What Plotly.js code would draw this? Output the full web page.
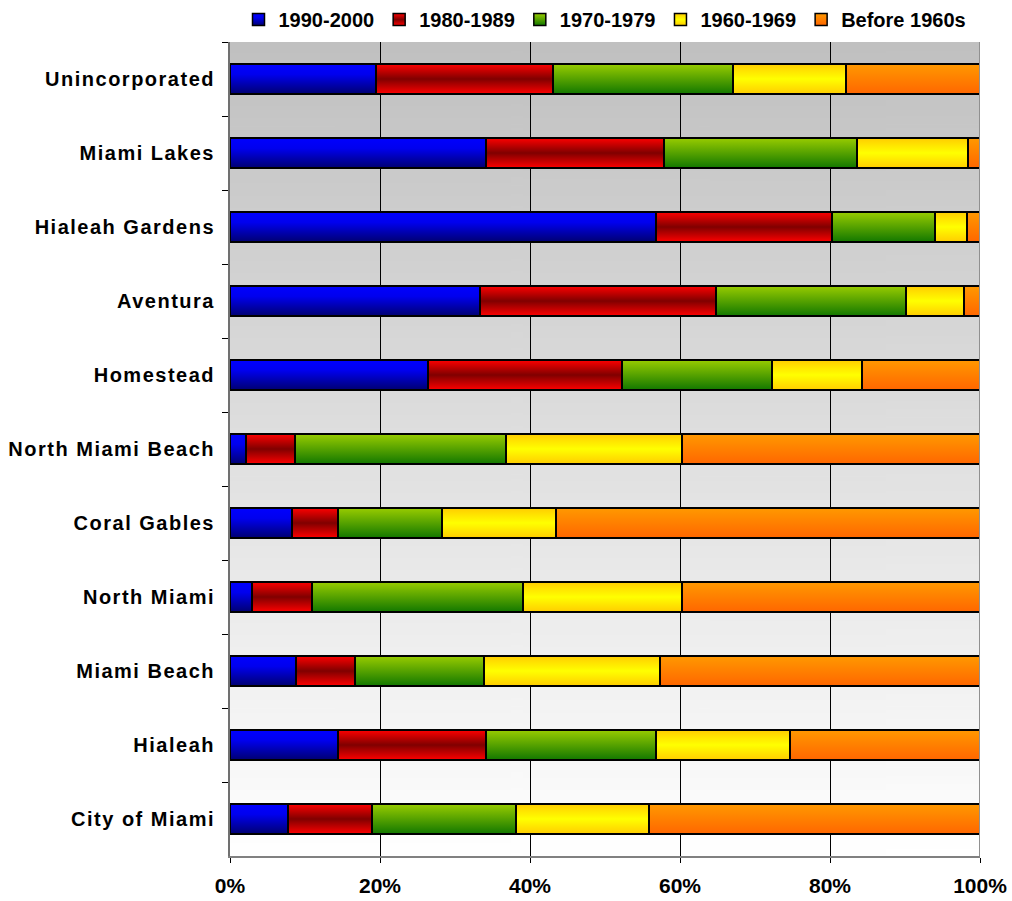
<!DOCTYPE html>
<html>
<head>
<meta charset="utf-8">
<script src="https://cdn.plot.ly/plotly-3.0.1.min.js"></script>
<style>
  html, body { margin: 0; padding: 0; background: #fff; }
  #chart { width: 1012px; height: 901px; }
  .ytick text { letter-spacing: 1.5px; }
</style>
</head>
<body>
<div id="chart"></div>
<script>
// ---- data ----
const categories = ['Unincorporated','Miami Lakes','Hialeah Gardens','Aventura','Homestead',
  'North Miami Beach','Coral Gables','North Miami','Miami Beach','Hialeah','City of Miami'];
const seriesNames = ['1990-2000','1980-1989','1970-1979','1960-1969','Before 1960s'];
const s1990_2000 = [19.4,34.1,56.8,33.3,26.4,2.1,8.2,2.9,8.8,14.4,7.7];
const s1980_1989 = [23.7,23.7,23.4,31.5,25.8,6.6,6.2,8.0,7.9,19.7,11.2];
const s1970_1979 = [24.0,25.8,13.8,25.3,20.0,28.1,13.8,28.2,17.2,22.7,19.2];
const s1960_1969 = [15.0,14.8,4.3,7.7,12.0,23.4,15.2,21.1,23.4,17.8,17.8];
const sBefore1960 = [17.9,1.6,1.7,2.2,15.8,39.8,56.6,39.8,42.7,25.4,44.1];
const xTickVals = [0,20,40,60,80,100];
const xTickText = ['0%','20%','40%','60%','80%','100%'];

// ---- styles ----
const baseColors = ['#0000cc','#cc0000','#559900','#ffee00','#ff8000'];
const gradStops = [
  [[0,'#0000ff'],[0.35,'#0000ee'],[1,'#000070']],
  [[0,'#ff0000'],[0.5,'#800000'],[1,'#ff0000']],
  [[0,'#99cc00'],[1,'#117700']],
  [[0,'#ffcc00'],[0.5,'#ffff00'],[1,'#ffcc00']],
  [[0,'#ff9900'],[1,'#ff6600']]
];

const allSeries = [s1990_2000, s1980_1989, s1970_1979, s1960_1969, sBefore1960];
const traces = allSeries.map((vals, i) => ({
  type: 'bar',
  orientation: 'h',
  name: seriesNames[i],
  x: vals,
  y: categories,
  marker: { color: baseColors[i], line: { color: '#000', width: 2 } },
  hoverinfo: 'none'
}));

// background gradient for plot area
const cv = document.createElement('canvas');
cv.width = 4; cv.height = 400;
const ctx = cv.getContext('2d');
const g = ctx.createLinearGradient(0,0,0,400);
g.addColorStop(0,'#c0c0c0');
g.addColorStop(1,'#ffffff');
ctx.fillStyle = g; ctx.fillRect(0,0,4,400);
const bgURL = cv.toDataURL();

const fontFam = '"Liberation Sans", Arial, sans-serif';

const layout = {
  width: 1012, height: 901,
  margin: { l: 230, r: 32, t: 42, b: 45 },
  paper_bgcolor: '#ffffff',
  plot_bgcolor: 'rgba(0,0,0,0)',
  barmode: 'stack',
  bargap: 0.59,
  showlegend: true,
  hovermode: false,
  font: { family: fontFam, color: '#000', size: 20, weight: 'bold' },
  legend: {
    orientation: 'h', x: 0.5, xanchor: 'center', xref: 'paper',
    y: 1, yanchor: 'top', yref: 'container',
    font: { family: fontFam, size: 20, weight: 'bold', color: '#000' },
    traceorder: 'normal', itemwidth: 30, tracegroupgap: 0,
    bgcolor: 'rgba(0,0,0,0)'
  },
  xaxis: {
    range: [0, 100], tickvals: xTickVals, ticktext: xTickText,
    showgrid: true, gridcolor: '#000', gridwidth: 1,
    zeroline: false, showline: true, linecolor: '#808080', linewidth: 2,
    ticks: 'outside', ticklen: 5, tickcolor: '#000', tickwidth: 1,
    ticklabelstandoff: 5,
    tickfont: { family: fontFam, size: 21, weight: 'bold', color: '#000' },
    fixedrange: true
  },
  yaxis: {
    type: 'category', autorange: 'reversed',
    showgrid: false, zeroline: false,
    showline: true, linecolor: '#707070', linewidth: 2,
    ticks: 'outside', tickson: 'boundaries', ticklen: 6, tickcolor: '#000', tickwidth: 1,
    ticklabelstandoff: 9,
    tickfont: { family: fontFam, size: 20, weight: 'bold', color: '#000' },
    fixedrange: true
  },
  images: [{
    source: bgURL, xref: 'paper', yref: 'paper', x: 0, y: 1, sizex: 1, sizey: 1,
    sizing: 'stretch', layer: 'below', xanchor: 'left', yanchor: 'top'
  }],
  shapes: [{
    type: 'line', xref: 'x', yref: 'paper', x0: 100, x1: 100, y0: 0, y1: 1,
    line: { color: '#909090', width: 2 }, layer: 'above'
  }]
};

function applyGradients(gd) {
  const svg = gd.querySelector('svg.main-svg');
  const NS = 'http://www.w3.org/2000/svg';
  let defs = svg.querySelector('defs');
  if (!defs) { defs = document.createElementNS(NS, 'defs'); svg.insertBefore(defs, svg.firstChild); }
  gradStops.forEach((stops, i) => {
    const lg = document.createElementNS(NS, 'linearGradient');
    lg.setAttribute('id', 'bargrad' + i);
    lg.setAttribute('x1', '0'); lg.setAttribute('y1', '0');
    lg.setAttribute('x2', '0'); lg.setAttribute('y2', '1');
    stops.forEach(s => {
      const st = document.createElementNS(NS, 'stop');
      st.setAttribute('offset', s[0]);
      st.setAttribute('stop-color', s[1]);
      lg.appendChild(st);
    });
    defs.appendChild(lg);
  });
  const barTraces = gd.querySelectorAll('.barlayer .trace');
  barTraces.forEach((tr, i) => {
    tr.querySelectorAll('path').forEach(p => { p.style.fill = 'url(#bargrad' + i + ')'; });
  });
  const legTraces = gd.querySelectorAll('.legend .traces');
  legTraces.forEach((tr, i) => {
    tr.querySelectorAll('.legendpoints path').forEach(p => { p.style.fill = 'url(#bargrad' + i + ')'; p.style.strokeWidth = '1.5px'; });
  });
}

const gd = document.getElementById('chart');
Plotly.newPlot(gd, traces, layout, { displayModeBar: false, staticPlot: true })
  .then(() => applyGradients(gd));
</script>
</body>
</html>
